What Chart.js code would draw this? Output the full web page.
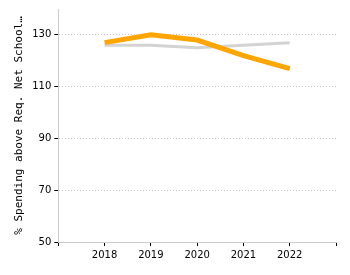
<!DOCTYPE html>
<html>
<head>
<meta charset="utf-8">
<script src="https://cdn.jsdelivr.net/npm/chart.js@4"></script>
<style>
  html, body { margin: 0; padding: 0; background: #fff; }
  #wrap { width: 350px; height: 275px; }
</style>
</head>
<body>
<div id="wrap"><canvas id="chart" width="350" height="275"></canvas></div>
<script>
// categories (empty slots pad the axis at both ends)
const years = ['', '2018', '2019', '2020', '2021', '2022', ''];
const districtValues = [null, 127, 130, 128, 122, 117, null];
const comparisonValues = [null, 126, 126, 125, 126, 127, null];
const yTicks = [50, 70, 90, 110, 130];
const yTitle = '% Spending above Req. Net School\u2026';

const FONT = 'DejaVu Sans';

const ctx = document.getElementById('chart');
new Chart(ctx, {
    type: 'line',
    data: {
        labels: years,
        datasets: [
            {
                label: 'District',
                data: districtValues,
                borderColor: '#ffa500',
                borderWidth: 5,
                pointRadius: 0,
                tension: 0
            },
            {
                label: 'Comparison',
                data: comparisonValues,
                borderColor: '#d3d3d3',
                borderWidth: 3,
                pointRadius: 0,
                tension: 0
            }
        ]
    },
    options: {
        responsive: false,
        animation: false,
        layout: { padding: { top: 8, right: 14, bottom: 11, left: 13 } },
        plugins: {
            legend: { display: false },
            tooltip: { enabled: false }
        },
        scales: {
            x: {
                offset: false,
                grid: {
                    display: true,
                    drawOnChartArea: false,
                    drawTicks: true,
                    tickLength: 4,
                    tickColor: '#000'
                },
                border: { color: '#ccc', width: 1 },
                ticks: {
                    color: '#000',
                    font: { family: FONT, size: 10 },
                    maxRotation: 0,
                    autoSkip: false,
                    padding: 3
                }
            },
            y: {
                min: 50,
                max: 140,
                afterBuildTicks: axis => {
                    axis.ticks = yTicks.map(v => ({ value: v }));
                },
                grid: {
                    color: '#ccc',
                    tickColor: '#000',
                    tickLength: 4,
                    tickBorderDash: [],
                    lineWidth: 1
                },
                border: { color: '#ccc', width: 1, dash: [1, 2] },
                ticks: {
                    color: '#000',
                    font: { family: FONT, size: 10 },
                    padding: 3
                },
                title: {
                    display: true,
                    text: yTitle,
                    color: '#000',
                    font: { family: 'DejaVu Sans Mono', size: 11 },
                    padding: { top: 0, bottom: 3 }
                }
            }
        }
    }
});
</script>
</body>
</html>
